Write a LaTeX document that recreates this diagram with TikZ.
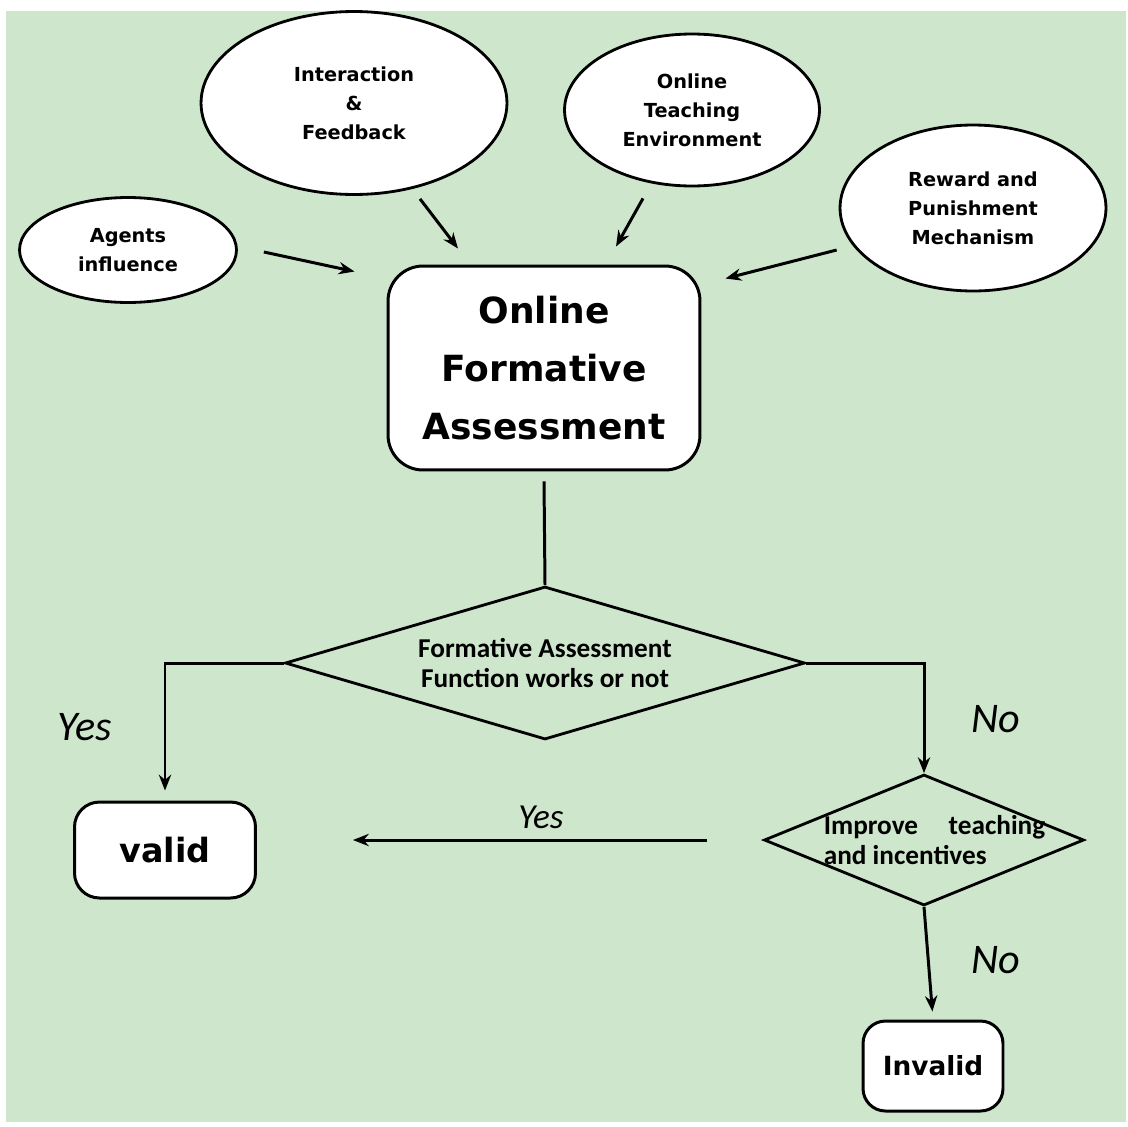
\documentclass[tikz,border=0pt]{standalone}
\usepackage{fontspec}
\setmainfont{DejaVu Sans}
\newfontfamily\calfont{Carlito}
\usetikzlibrary{shapes, arrows.meta, positioning}
\definecolor{panelgreen}{RGB}{206, 230, 204}

\begin{document}
\begin{tikzpicture}[x=0.02cm, y=-0.02cm,
        factor/.style={ellipse, draw=black, fill=white, line width=1.6pt, inner sep=0pt, align=center, font=\fontsize{11}{16.4}\selectfont\bfseries},
        stage/.style={rectangle, rounded corners=0.7cm, draw=black, fill=white, line width=1.7pt, align=center},
        decision/.style={diamond, draw=black, line width=1.6pt, inner sep=0pt, align=center, font=\calfont\bfseries\fontsize{15.5}{17}\selectfont},
        flow/.style={-{Stealth[length=9pt, width=7pt]}, line width=1.7pt},
        answer/.style={font=\calfont\itshape\fontsize{24}{28}\selectfont}
    ]
        \useasboundingbox (0,0) rectangle (1128,1126);
        \fill[panelgreen] (6,11) rectangle (1126,1122);

        \node[factor, minimum width=6.12cm, minimum height=3.66cm] (interact) at (354,103) {Interaction\\\&\\Feedback};
        \node[factor, minimum width=5.1cm, minimum height=3.04cm] (teach) at (692,110) {Online\\Teaching\\Environment};
        \node[factor, minimum width=5.32cm, minimum height=3.32cm] (reward) at (973,208) {Reward and\\Punishment\\Mechanism};
        \node[factor, minimum width=4.34cm, minimum height=2.1cm] (agents) at (128,250) {Agents\\influence};

        \node[stage, minimum width=6.24cm, minimum height=4.08cm, font=\fontsize{20.5}{33}\selectfont\bfseries] (ofa) at (544,368) {Online\\Formative\\Assessment};
        \node[decision, minimum width=10.4cm, minimum height=3.06cm, aspect=3.4] (works) at (545,663) {Formative Assessment\\Function works or not};
        \node[stage, rounded corners=0.5cm, minimum width=3.62cm, minimum height=1.92cm, font=\fontsize{19}{23}\selectfont\bfseries] (valid) at (165,850) {valid};
        \node[decision, minimum width=6.4cm, minimum height=2.62cm, aspect=2.44] (improve) at (924,840) {\makebox[0pt][l]{\hspace*{-57pt}\parbox{126pt}{Improve\hfill teaching\\and incentives}}};
        \node[stage, rounded corners=0.45cm, minimum width=2.8cm, minimum height=1.8cm, font=\fontsize{15}{18}\selectfont\bfseries] (invalid) at (933,1066) {Invalid};

        % answer labels
        \node[answer] (yesleft) at (85,727) {Yes};
        \node[answer] (noright) at (996,719) {No};
        \node[answer, font=\calfont\itshape\fontsize{20}{24}\selectfont] (yesmid) at (541,817) {Yes};
        \node[answer] (nolow) at (996,960) {No};

        % influences
        \draw[flow] ([shift={(26,2)}]agents.east) -- ([shift={(-32,7)}]ofa.north west);
        \draw[flow] ([shift={(66,3)}]interact.south) -- ([shift={(-86,-16)}]ofa.north);
        \draw[flow] ([shift={(-49,11)}]teach.south) -- ([shift={(72,-18)}]ofa.north);
        \draw[flow] ([shift={(-2,42)}]reward.west) -- ([shift={(24,14)}]ofa.north east);

        % decisions
        \draw[line width=1.7pt] ([shift={(0,10)}]ofa.south) -- (works.north);
        \draw[flow, shorten >=0.2cm] (works.west) -| (valid.north);
        \draw[flow] (works.east) -| (improve.north);
        \draw[flow, shorten <=1.12cm, shorten >=1.92cm] (improve.west) -- (improve.west -| valid.east);
        \draw[flow, shorten >=0.16cm] (improve.south) -- (invalid.north);
    \end{tikzpicture}
\end{document}
